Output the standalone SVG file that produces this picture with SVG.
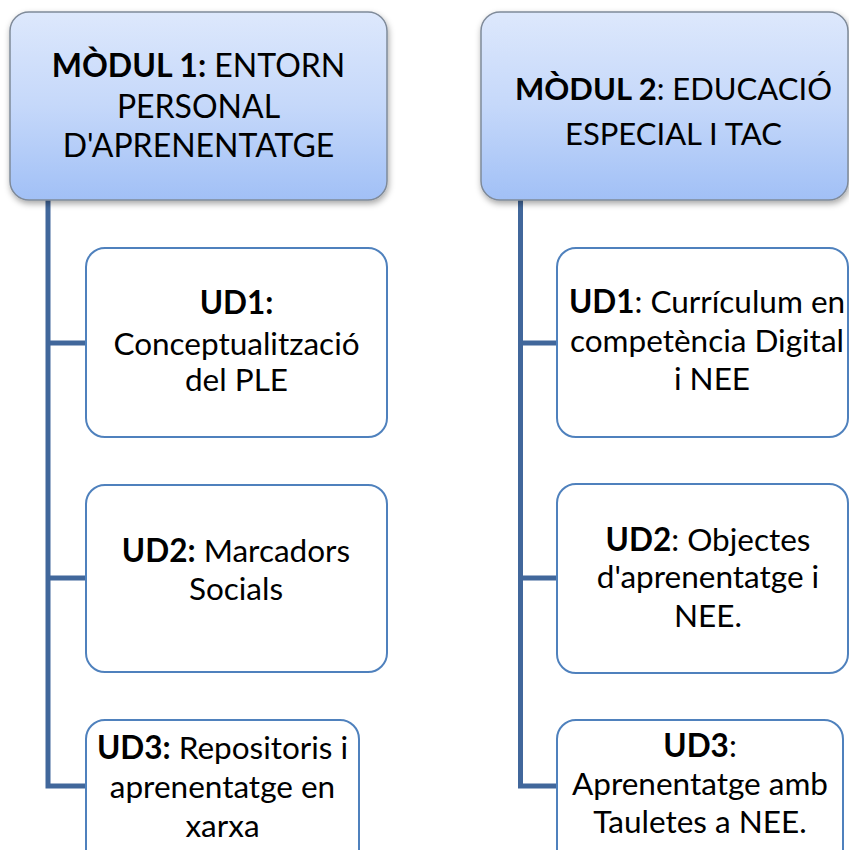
<svg xmlns="http://www.w3.org/2000/svg" width="849" height="850" viewBox="0 0 849 850">
<defs>
<linearGradient id="hg" x1="0" y1="0" x2="0" y2="1">
<stop offset="0" stop-color="#dde8fc"/>
<stop offset="0.5" stop-color="#c5d8fa"/>
<stop offset="1" stop-color="#a1c0f6"/>
</linearGradient>
<filter id="sh" x="-10%" y="-10%" width="125%" height="130%">
<feDropShadow dx="1" dy="3" stdDeviation="3" flood-color="#000" flood-opacity="0.35"/>
</filter>
</defs>
<style>
.hdr{fill:url(#hg);stroke:#7f8a99;stroke-width:1.5;filter:url(#sh)}
.box{fill:#ffffff;stroke:#4f81bd;stroke-width:2}
.con{fill:none;stroke:#41679b;stroke-width:5;stroke-linejoin:miter}
text{font-family:Lato,"Open Sans","Liberation Sans",sans-serif;fill:#000;text-anchor:middle}
.h1{font-size:32px}
.h2{font-size:31px}
.c{font-size:31.5px}
.b{font-weight:bold}
</style>
<rect width="849" height="850" fill="#ffffff"/>
<g id="connectors">
<path class="con" d="M48,200 V786 H86 M48,343 H86 M48,578 H86"/>
<path class="con" d="M520.5,200 V786 H557 M520.5,343 H557 M520.5,578 H557"/>
</g>
<g id="m1">
<rect class="hdr" x="10" y="12" width="377" height="188" rx="19"/>
<text class="h1" x="198.5" y="77"><tspan class="b">MÒDUL 1:</tspan> ENTORN</text>
<text class="h1" x="198.5" y="117.5">PERSONAL</text>
<text class="h1" x="198.5" y="157">D'APRENENTATGE</text>
</g>
<g id="m1ud1">
<rect class="box" x="86" y="248" width="301" height="189" rx="19"/>
<text class="c" x="236.5" y="314"><tspan class="b">UD1:</tspan></text>
<text class="c" x="236.5" y="355">Conceptualització</text>
<text class="c" x="236.5" y="391">del PLE</text>
</g>
<g id="m1ud2">
<rect class="box" x="86" y="485" width="301" height="187" rx="19"/>
<text class="c" x="236" y="562"><tspan class="b">UD2:</tspan> Marcadors</text>
<text class="c" x="236" y="600">Socials</text>
</g>
<g id="m1ud3">
<rect class="box" x="86" y="720" width="273" height="160" rx="19"/>
<text class="c" x="222.5" y="759"><tspan class="b">UD3:</tspan> Repositoris i</text>
<text class="c" x="222.5" y="798">aprenentatge en</text>
<text class="c" x="222.5" y="837">xarxa</text>
</g>
<g id="m2">
<rect class="hdr" x="481" y="12" width="367" height="188" rx="19"/>
<text class="h2" x="673.5" y="100"><tspan class="b">MÒDUL 2</tspan>: EDUCACIÓ</text>
<text class="h2" x="673.5" y="145">ESPECIAL I TAC</text>
</g>
<g id="m2ud1">
<rect class="box" x="557" y="248" width="291" height="189" rx="19"/>
<text class="c" x="707" y="313"><tspan class="b">UD1</tspan>: Currículum en</text>
<text class="c" x="707" y="352">competència Digital</text>
<text class="c" x="712" y="390">i NEE</text>
</g>
<g id="m2ud2">
<rect class="box" x="557" y="484" width="291" height="189" rx="19"/>
<text class="c" x="708" y="551"><tspan class="b">UD2</tspan>: Objectes</text>
<text class="c" x="708" y="588">d'aprenentatge i</text>
<text class="c" x="708" y="627">NEE.</text>
</g>
<g id="m2ud3">
<rect class="box" x="557" y="720" width="286" height="160" rx="19"/>
<text class="c" x="700" y="757"><tspan class="b">UD3</tspan>:</text>
<text class="c" x="700" y="795">Aprenentatge amb</text>
<text class="c" x="700" y="833">Tauletes a NEE.</text>
</g>
</svg>
